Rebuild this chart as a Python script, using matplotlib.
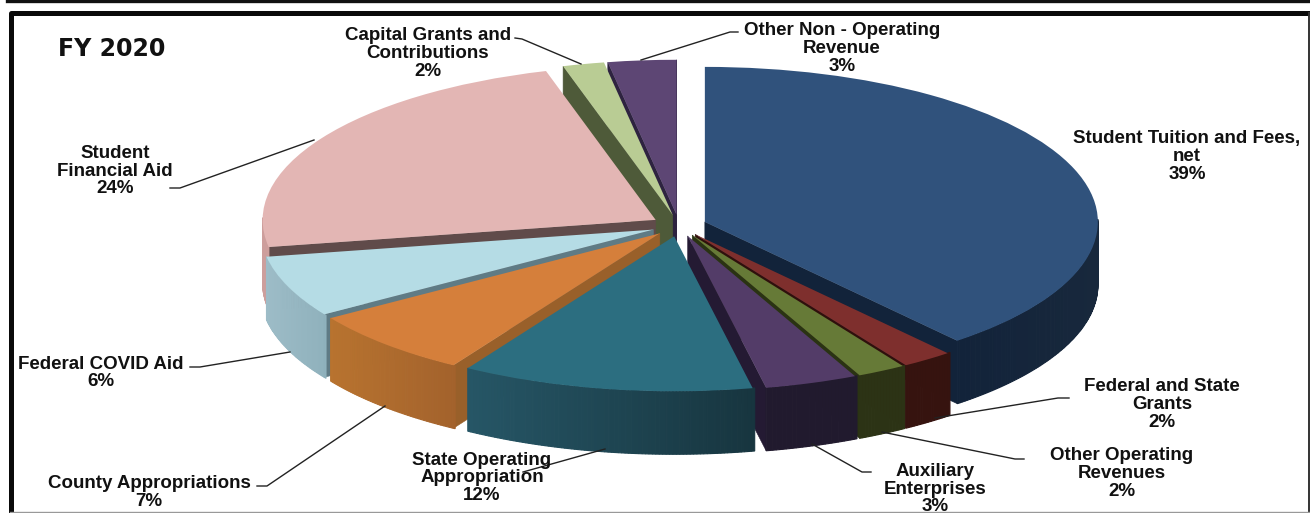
import numpy as np
import matplotlib
matplotlib.use("Agg")
import matplotlib.pyplot as plt
from matplotlib.colors import to_rgb

# clockwise from the top of the pie
names = ["Student Tuition and Fees,\nnet", "Federal and State\nGrants", "Other Operating\nRevenues",
         "Auxiliary\nEnterprises", "State Operating\nAppropriation", "County Appropriations",
         "Federal COVID Aid", "Student\nFinancial Aid", "Capital Grants and\nContributions",
         "Other Non - Operating\nRevenue"]
shown_pct = [39, 2, 2, 3, 12, 7, 6, 24, 2, 3]
values = [38.9, 2.1, 2.0, 3.8, 12.0, 7.0, 6.4, 23.3, 1.7, 2.8]

top_colors = ["#30527c", "#7e2f2d", "#667a37", "#533c68", "#2c6e80",
              "#d57f3b", "#b5dce5", "#e3b6b4", "#b9cc94", "#5d4674"]
edge_colors = ["#12233a", "#2f100c", "#2a3313", "#241a33", "#17353f",
               "#99602a", "#5f7b85", "#604b4a", "#4e5a39", "#2e2340"]
# outer wall shade, left end and right end
wall_left = ["#12233a", "#36130f", "#2c3315", "#211a2e", "#265666",
             "#b8732f", "#9dbcc7", "#cd9e9c", "#4e5a39", "#2e2340"]
wall_right = ["#18283c", "#36130f", "#2c3315", "#211a2e", "#17353f",
              "#a3622c", "#8fb1bc", "#cd9e9c", "#4e5a39", "#2e2340"]

W, H = 1310, 513
cx, cy = 679.0, 225.6   # pie centre, px
rx, ry = 393.0, 155.0   # ellipse radii, px
thick = 63.0 / ry

fig = plt.figure(figsize=(W / 100, H / 100), dpi=100)
ax = fig.add_axes([0, 0, 1, 1])
wedges, _ = ax.pie(values, colors=top_colors, explode=[0.07] * len(values), startangle=90,
                   counterclock=False, wedgeprops={"linewidth": 0})
ax.set_aspect("auto")
ax.set_xlim(-cx / rx, (W - cx) / rx)
ax.set_ylim(-(H - cy) / ry, cy / ry)
ax.set_axis_off()


def radial_wall(w, ang, color, z):
    a = np.radians(ang)
    x0, y0 = w.center
    x1, y1 = x0 + w.r * np.cos(a), y0 + w.r * np.sin(a)
    ax.fill([x0, x1, x1, x0], [y0, y1, y1 - thick, y0 - thick], color=color, lw=0.4, zorder=z)


# paint back to front, the wedge top goes last
mids = [np.radians((w.theta1 + w.theta2) / 2) for w in wedges]
order = np.argsort([-np.sin(m) for m in mids])
for n, i in enumerate(order):
    w = wedges[i]
    z = 10 + n * 3
    if np.cos(np.radians(w.theta1)) > 0:
        radial_wall(w, w.theta1, edge_colors[i], z)
    if np.cos(np.radians(w.theta2)) < 0:
        radial_wall(w, w.theta2, edge_colors[i], z)

    angs = np.radians(np.arange(w.theta1, w.theta2 + 0.5, 0.5))
    angs = angs[np.sin(angs) < 0.02]
    if len(angs) > 1:
        x0, y0 = w.center
        xs = x0 + w.r * np.cos(angs)
        ys = y0 + w.r * np.sin(angs)
        cl, cr = np.array(to_rgb(wall_left[i])), np.array(to_rgb(wall_right[i]))
        span = max(xs.max() - xs.min(), 1e-6)
        for k in range(len(angs) - 1):
            t = (min(xs[k], xs[k + 1]) - xs.min()) / span
            c = cl + (cr - cl) * t
            ax.fill([xs[k], xs[k + 1], xs[k + 1], xs[k]],
                    [ys[k], ys[k + 1], ys[k + 1] - thick, ys[k] - thick],
                    color=c, lw=0.8, zorder=z + 1)
    w.set_zorder(z + 2)

# overlay in image pixels for frame, leaders and labels
ov = fig.add_axes([0, 0, 1, 1], facecolor="none")
ov.set_xlim(0, W)
ov.set_ylim(H, 0)
ov.set_axis_off()

# frame
ov.plot([7, 1310], [1, 1], color="#111111", lw=2.4, zorder=1)
ov.plot([1310, 10.5, 10.5], [13, 13, 513], color="#0a0a0a", lw=3.6, solid_joinstyle="round", zorder=1)
ov.plot([1309, 1309], [13, 512], color="#333333", lw=1.4, zorder=1)
ov.plot([10, 1310], [512, 512], color="#999999", lw=1.0, zorder=1)

# leader lines
leaders = [
    ([170, 180, 314], [188, 188, 140]),
    ([515, 522, 581], [38, 39, 64]),
    ([738, 730, 641], [32, 32, 60]),
    ([1069, 1058, 935], [398, 398, 418]),
    ([1024, 1015, 882], [459, 459, 432]),
    ([871, 862, 812], [472, 472, 444]),
    ([605, 523], [449, 472]),
    ([257, 267, 385], [486, 486, 406]),
    ([190, 200, 290], [367, 367, 352]),
]
for xs, ys in leaders:
    ov.plot(xs, ys, color="#222222", lw=1.0, zorder=2)

# label centres, same order as names
label_x = [1187, 1162, 1122, 935, 482, 149, 101, 115, 428, 842]
label_y = [156.5, 404.5, 473.5, 489, 478, 492.5, 373, 171, 53.5, 48.5]
for name, pct, lx, ly in zip(names, shown_pct, label_x, label_y):
    ov.text(lx, ly, f"{name}\n{pct}%", ha="center", va="center", multialignment="center",
            fontsize=13.5, fontweight="bold", family="Liberation Sans", linespacing=1.04,
            color="#111111", zorder=3)

ov.text(58, 49, "FY 2020", ha="left", va="center", fontsize=17, fontweight="bold",
        family="DejaVu Sans", color="#111111", zorder=3)

fig.savefig("out.png", dpi=100)
